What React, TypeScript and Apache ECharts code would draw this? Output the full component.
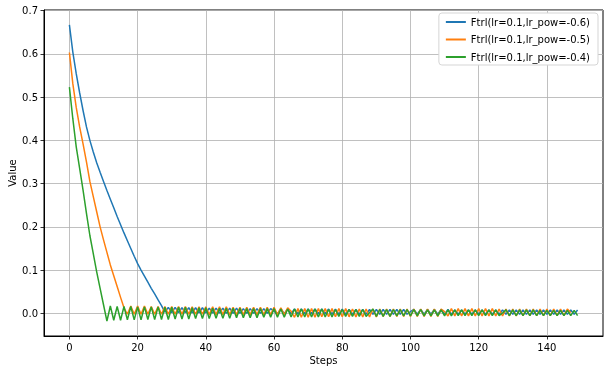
import React, { useEffect, useRef } from "react";
import * as echarts from "echarts";

const seriesNames = [
  "Ftrl(lr=0.1,lr_pow=-0.6)",
  "Ftrl(lr=0.1,lr_pow=-0.5)",
  "Ftrl(lr=0.1,lr_pow=-0.4)",
];

const blueValues = [
  0.667, 0.604, 0.554, 0.510, 0.469, 0.431, 0.400, 0.373, 0.348, 0.326,
  0.305, 0.284, 0.264, 0.244, 0.224, 0.205, 0.186, 0.168, 0.150, 0.132,
  0.115, 0.100, 0.086, 0.072, 0.058, 0.045, 0.031, 0.018,
  0.003, 0.014, 0.002, 0.014, 0.002, 0.013, 0.002, 0.013, 0.001, 0.013,
  0.001, 0.013, 0.001, 0.012, 0.001, 0.012, 0.001, 0.012, 0.000, 0.012,
  0.000, 0.012, 0.000, 0.011, 0.000, 0.011, 0.000, 0.011, 0.000, 0.011,
  0.000, 0.011,
  0.005,
  -0.001, 0.011, -0.001, 0.010, -0.001, 0.010, -0.001, 0.010, -0.001, 0.010,
  -0.001, 0.010, -0.001, 0.010, -0.001, 0.010, -0.002, 0.010, -0.002, 0.010,
  -0.002, 0.009, -0.002, 0.009, -0.002, 0.009, -0.002, 0.009, -0.002, 0.009,
  -0.002, 0.009, -0.002, 0.009, -0.002, 0.009, -0.002, 0.009, -0.002,
  0.004,
  0.009, -0.002, 0.009, -0.002, 0.009, -0.002, 0.009, -0.002, 0.009, -0.002,
  0.009, -0.002, 0.008, -0.002, 0.008, -0.002, 0.008, -0.002, 0.008, -0.002,
  0.008, -0.002, 0.008, -0.002, 0.008, -0.002, 0.008, -0.002, 0.008, -0.002,
  0.008, -0.002, 0.008, -0.002, 0.008, -0.002, 0.008, -0.002, 0.008, -0.002,
  0.008, -0.002, 0.008, -0.002, 0.008, -0.002, 0.008, -0.002, 0.008,
];

const orangeValues = [
  0.603, 0.531, 0.476, 0.431, 0.392, 0.350, 0.305, 0.270, 0.235, 0.200,
  0.170, 0.141, 0.112, 0.087, 0.062, 0.037, 0.013,
  -0.002, 0.017, -0.002, 0.017, -0.002, 0.017, -0.002, 0.016, -0.002, 0.016,
  -0.002, 0.016, -0.002, 0.016, -0.002, 0.016, -0.002, 0.016, -0.002, 0.015,
  -0.002, 0.015, -0.002, 0.015, -0.003, 0.015, -0.003, 0.015, -0.003, 0.015,
  -0.003, 0.014, -0.003, 0.014, -0.003, 0.014, -0.003, 0.014, -0.003, 0.014,
  -0.003, 0.014, -0.003, 0.014, -0.003, 0.013, -0.003, 0.013,
  0.005,
  -0.009, 0.011, -0.009, 0.011, -0.009, 0.011, -0.009, 0.011, -0.008, 0.011,
  -0.008, 0.011, -0.008, 0.011, -0.008, 0.011, -0.008, 0.010, -0.008, 0.010,
  -0.008, 0.010, -0.008, 0.010, -0.008, 0.010, -0.007, 0.010, -0.007, 0.010,
  -0.007, 0.010, -0.007, 0.010, -0.007, 0.010, -0.007, 0.010, -0.007, 0.010,
  -0.007, 0.010, -0.007, 0.010,
  0.004,
  -0.006, 0.011, -0.006, 0.011, -0.006, 0.011, -0.006, 0.011, -0.006, 0.011,
  -0.006, 0.011, -0.006, 0.011, -0.006, 0.010, -0.006, 0.010, -0.006, 0.010,
  -0.006, 0.010, -0.005, 0.010, -0.005, 0.010, -0.005, 0.010, -0.005, 0.010,
  -0.005, 0.010, -0.005, 0.010, -0.005, 0.010, 0.002,
];

const greenValues = [
  0.523, 0.450, 0.385, 0.335, 0.285, 0.231, 0.180, 0.138, 0.096, 0.058,
  0.020, -0.018,
  0.017, -0.016, 0.016, -0.016, 0.016, -0.015, 0.016, -0.015, 0.015, -0.015,
  0.015, -0.014, 0.015, -0.014, 0.015, -0.014, 0.014, -0.014, 0.014, -0.013,
  0.014, -0.013, 0.014, -0.013, 0.013, -0.012, 0.013, -0.012, 0.013, -0.012,
  0.012, -0.011, 0.012, -0.011, 0.012, -0.011, 0.012, -0.010, 0.012, -0.010,
  0.011, -0.010, 0.011, -0.010, 0.011, -0.009, 0.011, -0.009, 0.011, -0.009,
  0.010, -0.009, 0.010, -0.008, 0.010, -0.008, 0.010, -0.008, 0.010, -0.008,
  0.010, -0.008, 0.010, -0.008, 0.009, -0.008, 0.009, -0.007, 0.009, -0.007,
  0.009, -0.007, 0.009, -0.007, 0.009, -0.007,
  0.002,
  0.010, -0.007, 0.009, -0.007, 0.009, -0.007, 0.009, -0.006, 0.009, -0.006,
  0.009, -0.006, 0.009, -0.006, 0.009, -0.006, 0.008, -0.006, 0.008, -0.006,
  0.008, -0.006, 0.008, -0.006, 0.008, -0.005, 0.008, -0.005, 0.008, -0.005,
  0.008, -0.005, 0.008, -0.005, 0.008, -0.005, 0.008, -0.005,
  0.001,
  0.008, -0.005, 0.008, -0.005, 0.008, -0.005, 0.008, -0.005, 0.008, -0.005,
  0.007, -0.005, 0.007, -0.005, 0.007, -0.005, 0.007, -0.005, 0.007, -0.005,
  0.007, -0.005,
];

const xTicks = [0, 20, 40, 60, 80, 100, 120, 140];
const yTicks = [0, 0.1, 0.2, 0.3, 0.4, 0.5, 0.6, 0.7];
const colors = ["#1f77b4", "#ff7f0e", "#2ca02c"];

export default function App() {
  const ref = useRef<HTMLDivElement>(null);
  useEffect(() => {
    if (!ref.current) return;
    const chart = echarts.init(ref.current, null, { renderer: "svg" });
    const all = [blueValues, orangeValues, greenValues];
    const font = "DejaVu Sans";
    chart.setOption({
      animation: false,
      textStyle: { fontFamily: font },
      grid: {
        left: 44,
        right: 6,
        top: 10,
        bottom: 38,
        containLabel: false,
        outerBoundsMode: "none",
        show: true,
        borderColor: "#000",
        borderWidth: 1,
        backgroundColor: "transparent",
      },
      legend: {
        orient: "vertical",
        right: 11,
        top: 13,
        data: seriesNames,
        icon: "rect",
        itemWidth: 20,
        itemHeight: 2,
        itemGap: 5.5,
        padding: [3, 8, 2, 7],
        backgroundColor: "#fff",
        borderColor: "#d5d5d5",
        borderWidth: 1,
        borderRadius: 3,
        textStyle: { fontFamily: font, fontSize: 10, color: "#000", lineHeight: 12 },
      },
      xAxis: {
        type: "value",
        min: -7.45,
        max: 156.45,
        name: "Steps",
        nameLocation: "middle",
        nameGap: 19,
        nameMoveOverlap: false,
        nameTextStyle: { fontFamily: font, fontSize: 10, color: "#000" },
        axisLine: { show: true, onZero: false, lineStyle: { color: "#000", width: 1 } },
        axisTick: {
          show: true,
          length: 3.5,
          lineStyle: { color: "#000", width: 0.8 },
          customValues: xTicks,
        },
        axisLabel: {
          fontFamily: font,
          fontSize: 10,
          color: "#000",
          margin: 6,
          customValues: xTicks,
          formatter: (v: number) => String(v),
        },
        splitLine: { show: true, lineStyle: { color: "#b0b0b0", width: 0.8 } },
      },
      yAxis: {
        type: "value",
        min: -0.0523,
        max: 0.7013,
        name: "Value",
        nameLocation: "middle",
        nameGap: 27,
        nameMoveOverlap: false,
        nameTextStyle: { fontFamily: font, fontSize: 10, color: "#000" },
        axisLine: { show: true, onZero: false, lineStyle: { color: "#000", width: 1 } },
        axisTick: {
          show: true,
          length: 3.5,
          lineStyle: { color: "#000", width: 0.8 },
          customValues: yTicks,
        },
        axisLabel: {
          fontFamily: font,
          fontSize: 10,
          color: "#000",
          margin: 6,
          customValues: yTicks,
          formatter: (v: number) => v.toFixed(1),
        },
        splitLine: { show: true, lineStyle: { color: "#b0b0b0", width: 0.8 } },
      },
      series: all.map((vals, si) => ({
        name: seriesNames[si],
        type: "line",
        data: vals.map((v, i) => [i, v]),
        symbol: "none",
        showSymbol: false,
        lineStyle: { color: colors[si], width: 1.5 },
        itemStyle: { color: colors[si] },
        z: 2 + si,
      })),
    });
    return () => chart.dispose();
  }, []);
  return (
    <div
      ref={ref}
      style={{ position: "fixed", left: 0, top: 0, width: 609, height: 374 }}
    />
  );
}
